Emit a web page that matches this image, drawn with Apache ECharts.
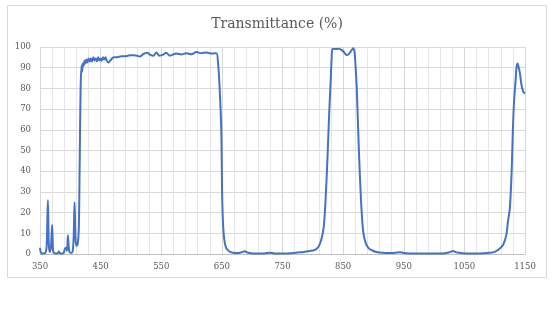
<!DOCTYPE html>
<html>
<head>
<meta charset="utf-8">
<script src="https://cdn.jsdelivr.net/npm/echarts@6/dist/echarts.min.js"></script>
<style>
html,body{margin:0;padding:0;background:#fff;}
#chart{width:554px;height:331px;}
</style>
</head>
<body>
<div id="chart"></div>
<script>
var titleText = "Transmittance (%)";
var xTicks = [350, 450, 550, 650, 750, 850, 950, 1050, 1150];
var wavelength = [
  350, 351, 353, 356, 359, 361, 363, 364.5, 366, 368, 370, 371.5, 373, 376, 379, 381, 383, 386, 389, 391, 393, 394.5, 396, 397.5, 399, 402, 404, 405.5, 407, 408.5, 410, 412, 414, 415.5, 417, 418.5, 419.5, 420.5,
  422, 423.5, 425, 426.5, 428, 430, 432, 434, 436, 438, 440, 442, 444, 446, 448, 450, 452, 454, 456, 458, 460, 463, 466, 469, 472, 476, 480, 485, 490, 495, 500, 505, 510, 515, 520, 527, 532, 537, 542, 547, 553, 558, 564, 569, 575, 583, 591, 600, 608, 616, 624, 633, 641,
  643.5, 646, 649, 650.5, 652, 654, 657, 662, 668, 676, 682, 688, 693, 700, 710, 720, 729, 736, 745, 755, 765, 775, 785, 795, 802, 806, 810, 814, 818, 821, 824, 827, 829.5, 831, 832.5, 838, 843, 848, 852, 855.5, 859, 863, 866.5, 869, 871, 872.5, 876, 879.5, 883, 887, 892, 898, 905, 915, 927, 936, 943, 950, 960, 981, 1000, 1015, 1024, 1031.5, 1038, 1048, 1060, 1075, 1092, 1100, 1108, 1114, 1119, 1122, 1125, 1128, 1130, 1132, 1134.5, 1136, 1137.5, 1139, 1141.5, 1144, 1147, 1150
];
var transmittance = [
  3, 1, 0.3, 0.3, 0.5, 4, 26, 5, 1, 3, 14, 2, 0.5, 0.2, 0.3, 1.2, 0.3, 0.2, 0.5, 2.5, 3, 1.5, 9, 3, 0.8, 0.5, 1.5, 8, 25, 8, 4, 4.5, 12, 45, 80, 91, 88, 92,
  91, 93.5, 92, 94, 92.5, 94.5, 93, 94.5, 93, 95, 93.5, 94.5, 93, 95, 93.5, 94.5, 93.5, 95, 94, 95, 93.5, 92.5, 93.5, 94.5, 95, 95, 95.3, 95.5, 95.5, 95.8, 96, 96, 95.8, 95.4, 96.5, 97.2, 96.2, 95.8, 97.4, 95.8, 96.3, 97.2, 95.8, 96.3, 96.8, 96.4, 97, 96.5, 97.6, 97, 97.4, 96.8, 97,
  93, 82, 60, 28, 14, 7, 3, 1.3, 0.6, 0.5, 0.8, 1.3, 0.6, 0.3, 0.2, 0.3, 0.6, 0.3, 0.2, 0.2, 0.4, 0.7, 1, 1.5, 1.8, 2.4, 3.8, 7, 13, 26, 45, 68, 84, 94, 99, 99, 99.2, 98.5, 97.3, 96.1, 96.5, 98, 99.4, 97, 88, 80, 50, 26, 11, 5.5, 2.8, 1.7, 1, 0.6, 0.5, 0.6, 0.9, 0.5, 0.3, 0.2, 0.2, 0.3, 0.7, 1.5, 0.7, 0.4, 0.3, 0.3, 0.6, 1, 2.5, 4.5, 9, 16, 22, 40, 60, 74, 84, 90, 92, 91, 87.5, 82, 78.4, 77.6
];

var seriesData = wavelength.map(function (w, i) { return [w, transmittance[i]]; });

var chart = echarts.init(document.getElementById('chart'), null, { renderer: 'canvas' });
chart.setOption({
  animation: false,
  backgroundColor: '#ffffff',
  graphic: [{
    type: 'rect',
    shape: { x: 7.5, y: 5.5, width: 539, height: 272 },
    style: { fill: 'none', stroke: '#d9d9d9', lineWidth: 1 },
    silent: true,
    z: -1
  }],
  title: {
    text: titleText,
    left: 'center',
    top: 12,
    textStyle: { fontFamily: 'DejaVu Serif', fontSize: 14, fontWeight: 'normal', color: '#595959' }
  },
  grid: { left: 40, right: 29, top: 47, bottom: 77, containLabel: false },
  xAxis: {
    type: 'value',
    min: 350,
    max: 1150,
    interval: 100,
    axisLine: { show: true, lineStyle: { color: '#bfbfbf', width: 1 } },
    axisTick: { show: false },
    axisLabel: {
      fontFamily: 'DejaVu Serif', fontSize: 8.5, color: '#595959', margin: 8,
      formatter: function (v) { return xTicks.indexOf(v) >= 0 ? String(v) : ''; }
    },
    splitLine: { show: true, lineStyle: { color: '#d6d6d6', width: 1 } },
    minorTick: { show: false, splitNumber: 5 },
    minorSplitLine: { show: true, lineStyle: { color: '#e6e6e6', width: 1 } }
  },
  yAxis: {
    type: 'value',
    min: 0,
    max: 100,
    interval: 10,
    axisLine: { show: true, lineStyle: { color: '#d9d9d9', width: 1 } },
    axisTick: { show: false },
    axisLabel: { fontFamily: 'DejaVu Serif', fontSize: 8.5, color: '#595959', margin: 9 },
    splitLine: { show: true, lineStyle: { color: '#d9d9d9', width: 1 } }
  },
  series: [{
    type: 'line',
    data: seriesData,
    showSymbol: false,
    smooth: 0.3,
    lineStyle: { color: '#4472C4', width: 2 },
    clip: false
  }]
});
</script>
</body>
</html>
